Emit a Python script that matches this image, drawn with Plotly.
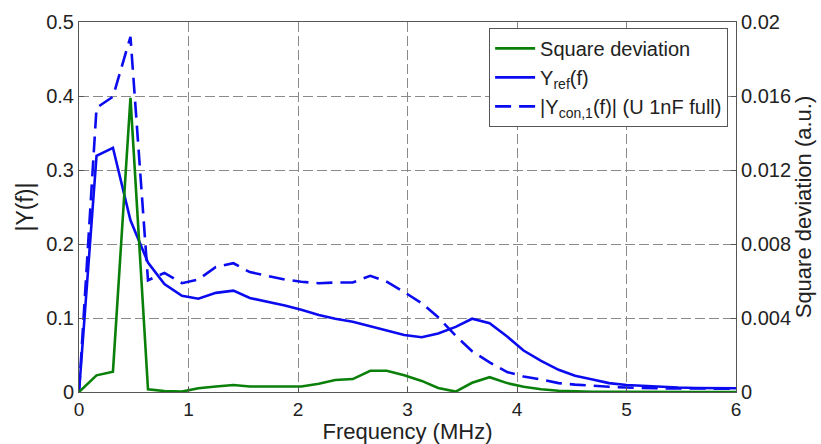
import plotly.graph_objects as go

freq = [0.00, 0.16, 0.31, 0.47, 0.63, 0.78, 0.94, 1.09, 1.25, 1.41, 1.56, 1.72,
        1.88, 2.03, 2.19, 2.34, 2.50, 2.66, 2.81, 2.97, 3.13, 3.28, 3.44, 3.59,
        3.75, 3.91, 4.06, 4.22, 4.38, 4.53, 4.69, 4.84, 5.00, 5.16, 5.31, 5.47,
        5.63, 5.78, 5.94, 6.00]

y_ref = [0.000, 0.319, 0.330, 0.232, 0.175, 0.146, 0.130, 0.126, 0.134, 0.137, 0.127, 0.122,
         0.117, 0.111, 0.104, 0.099, 0.095, 0.089, 0.083, 0.077, 0.074, 0.079, 0.088, 0.099,
         0.093, 0.075, 0.056, 0.042, 0.030, 0.022, 0.017, 0.012, 0.0095, 0.008, 0.007, 0.006,
         0.0055, 0.005, 0.005, 0.005]

y_con = [0.000, 0.384, 0.399, 0.480, 0.151, 0.161, 0.147, 0.152, 0.169, 0.174, 0.162, 0.157,
         0.152, 0.149, 0.147, 0.148, 0.148, 0.157, 0.149, 0.135, 0.120, 0.101, 0.076, 0.055,
         0.040, 0.027, 0.021, 0.017, 0.012, 0.010, 0.008, 0.007, 0.006, 0.005, 0.005, 0.0048,
         0.0046, 0.0045, 0.0045, 0.0045]

sq_dev = [0.0, 0.0009, 0.0011, 0.0159, 0.00015, 0.00005, 0.00002, 0.0002, 0.0003, 0.00038,
          0.0003, 0.0003, 0.00028, 0.0003, 0.00045, 0.00065, 0.0007, 0.00115, 0.00115, 0.0009,
          0.0006, 0.00022, 0.00002, 0.0005, 0.0008, 0.00048, 0.00028, 0.00015, 0.00007, 0.00003,
          0.00001, 0.00001, 0.0, 0.0, 0.0, 0.0, 0.0, 0.0, 0.0, 0.0]

x_ticks = [0, 1, 2, 3, 4, 5, 6]
y_ticks = [0, 0.1, 0.2, 0.3, 0.4, 0.5]
y2_ticks = [0, 0.004, 0.008, 0.012, 0.016, 0.02]

GREEN = "#0a800a"
BLUE = "#0b0bf0"
FONT = "Liberation Sans, Arial, sans-serif"
GRID = "#8a8a8a"
AXIS = "#555555"

fig = go.Figure()
fig.add_trace(go.Scatter(x=freq, y=sq_dev, name="Square deviation", yaxis="y2",
                         mode="lines", line=dict(color=GREEN, width=2.6)))
fig.add_trace(go.Scatter(x=freq, y=y_ref, name="Y<sub>ref</sub>(f)",
                         mode="lines", line=dict(color=BLUE, width=2.6)))
fig.add_trace(go.Scatter(x=freq, y=y_con, name="|Y<sub>con,1</sub>(f)| (U 1nF full)",
                         mode="lines", line=dict(color=BLUE, width=2.6, dash="16px,8px")))

fig.update_layout(
    width=821, height=444,
    margin=dict(l=79, r=85, t=22, b=52, autoexpand=False),
    paper_bgcolor="white", plot_bgcolor="white",
    font=dict(family=FONT, size=20, color="#222222"),
    showlegend=True,
    legend=dict(x=0.988, y=0.984, xanchor="right", yanchor="top",
                bordercolor="#555555", borderwidth=1, bgcolor="white",
                font=dict(size=20, family=FONT), itemwidth=40,
                tracegroupgap=0),
    xaxis=dict(range=[0, 6], tickvals=x_ticks, ticktext=[str(v) for v in x_ticks],
               showgrid=True, gridcolor=GRID, griddash="10px,4px", gridwidth=1,
               showline=True, linecolor=AXIS, linewidth=1, mirror=True,
               ticks="inside", ticklen=5, tickcolor=AXIS, zeroline=False,
               title=dict(text="Frequency (MHz)", font=dict(size=22), standoff=1),
               tickfont=dict(size=19)),
    yaxis=dict(range=[0, 0.5], tickvals=y_ticks, ticktext=["0", "0.1", "0.2", "0.3", "0.4", "0.5"],
               showgrid=True, gridcolor=GRID, griddash="10px,4px", gridwidth=1,
               showline=True, linecolor=AXIS, linewidth=1, mirror=False,
               ticks="inside", ticklen=5, tickcolor=AXIS, zeroline=False,
               title=dict(text="|Y(f)|", font=dict(size=23), standoff=6),
               tickfont=dict(size=20)),
    yaxis2=dict(range=[0, 0.02], tickvals=y2_ticks,
                ticktext=["0", "0.004", "0.008", "0.012", "0.016", "0.02"],
                overlaying="y", side="right", showgrid=False,
                showline=True, linecolor=AXIS, linewidth=1,
                ticks="inside", ticklen=5, tickcolor=AXIS, zeroline=False,
                title=dict(text="Square deviation (a.u.)", font=dict(size=22), standoff=2),
                tickfont=dict(size=20)),
)

fig.write_html("out.html", config={"displayModeBar": False},
               post_script="document.body.style.margin='0px';")
